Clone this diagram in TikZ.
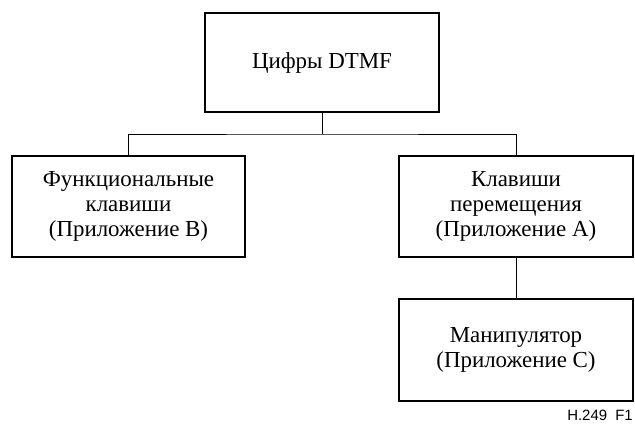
\documentclass[tikz,border=0pt]{standalone}
\usepackage{fontspec}
\setmainfont{Liberation Serif}
\newfontfamily\labelfont{Liberation Sans}
\begin{document}
\begin{tikzpicture}[x=1bp,y=-1bp,
  boxnode/.style={draw=black, line width=2.4bp, rectangle, align=center,
    inner sep=0pt, font=\fontsize{23}{25.5}\selectfont},
  link/.style={draw=black, line width=0.9bp}]
\useasboundingbox (0,0) rectangle (635,424);
\node[boxnode, minimum width=234bp, minimum height=99bp] (top) at (322,62.5) {Цифры DTMF};
\node[boxnode, minimum width=233bp, minimum height=101bp] (fk) at (128.5,206.5) {Функциональные\\клавиши\\(Приложение B)};
\node[boxnode, minimum width=234bp, minimum height=101bp] (km) at (516,206.5) {Клавиши\\перемещения\\(Приложение A)};
\node[boxnode, minimum width=234bp, minimum height=102bp] (mn) at (516,350) {Манипулятор\\(Приложение C)};
\coordinate (j) at (322,134);
\draw[link] (top.south) -- (j);
\draw[link] (fk.north) |- (j) -| (km.north);
\draw[link] (km.south) -- (mn.north);
\node[anchor=east, inner sep=0pt, font=\labelfont\fontsize{15}{17}\selectfont] (lbl) at (633,415.5) {H.249\hspace{0.55em}F1};
\end{tikzpicture}
\end{document}
